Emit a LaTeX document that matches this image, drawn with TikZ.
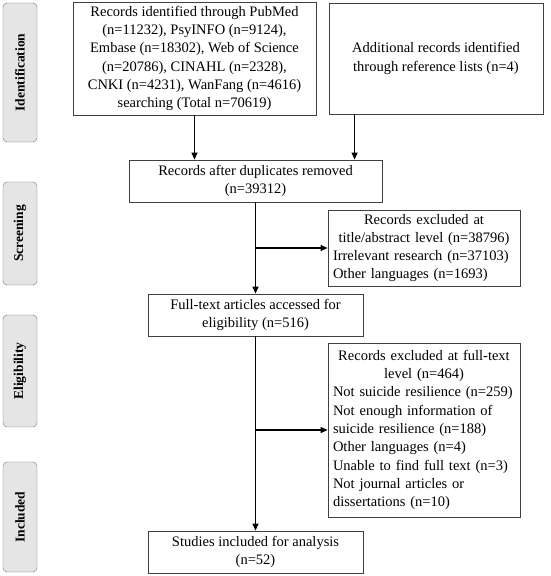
\documentclass[tikz,border=0pt]{standalone}
\usepackage{fontspec}
\setmainfont{Liberation Serif}
\usepackage{tikz}
\usetikzlibrary{arrows.meta}

\tikzset{
    box/.style={draw=black!75, line width=0.8pt, inner sep=4pt, align=center,
        font=\fontsize{14.5}{18.3}\selectfont},
    phase/.style={draw=black!55, fill=black!10, rounded corners=4pt, rotate=90,
        minimum height=34pt, inner sep=0pt, font=\fontsize{13.5}{16}\selectfont\bfseries},
    arr/.style={-{Triangle[length=7pt,width=6pt]}, line width=1.2pt},
    ln/.style={line width=1.2pt}
}

\begin{document}
\begin{tikzpicture}[x=1pt,y=-1pt]
        \useasboundingbox (0,0) rectangle (551,576);

        % Phases
        \foreach \y/\h/\name in {72.5/139/Identification, 233.5/103/Screening,
            371/112/Eligibility, 517/110/Included}
        {
            \node[phase, minimum width=\h pt] (ph-\name) at (20,\y) {\name};
        }

        % Boxes
        \node[box, minimum width=243pt, minimum height=111pt] (src) at (194.5,58.5)
            {Records identified through PubMed\\ (n=11232), PsyINFO (n=9124),\\
             Embase (n=18302), Web of Science\\ (n=20786), CINAHL (n=2328),\\
             CNKI (n=4231), WanFang (n=4616)\\ searching (Total n=70619)};
        \node[box, minimum width=214pt, minimum height=111pt] (extra) at (436,58.5)
            {Additional records identified\\ through reference lists (n=4)};
        \node[box, minimum width=253pt, minimum height=42pt] (dedup) at (255.5,181)
            {Records after duplicates removed\\ (n=39312)};
        \node[box, minimum width=192pt, minimum height=76pt, text width=182pt, align=left]
            (excl1) at (424,248)
            {{\centering Records excluded at\\ title/abstract level (n=38796)\par}
             Irrelevant research (n=37103)\\ Other languages (n=1693)};
        \node[box, minimum width=215pt, minimum height=42pt] (full) at (255.5,315)
            {Full-text articles accessed for\\ eligibility (n=516)};
        \node[box, minimum width=192pt, minimum height=174pt, text width=182pt, align=left]
            (excl2) at (424,430)
            {{\centering Records excluded at full-text\\ level (n=464)\par}
             Not suicide resilience (n=259)\\ Not enough information of\\
             suicide resilience (n=188)\\ Other languages (n=4)\\
             Unable to find full text (n=3)\\ Not journal articles or\\
             dissertations (n=10)};
        \node[box, minimum width=215pt, minimum height=42pt] (incl) at (255.5,552)
            {Studies included for analysis\\ (n=52)};

        % Connectors
        \coordinate (x1) at ([xshift=26pt]extra.south west);
        \draw[arr] (src.south) -- (src.south |- dedup.north);
        \draw[arr] (x1) -- (x1 |- dedup.north);
        \draw[arr] (dedup.south) -- (full.north);
        \draw[arr] (dedup.south |- excl1.west) -- (excl1.west);
        \draw[arr] (full.south) -- (incl.north);
        \draw[arr] (full.south |- excl2.west) -- (excl2.west);
\end{tikzpicture}
\end{document}
